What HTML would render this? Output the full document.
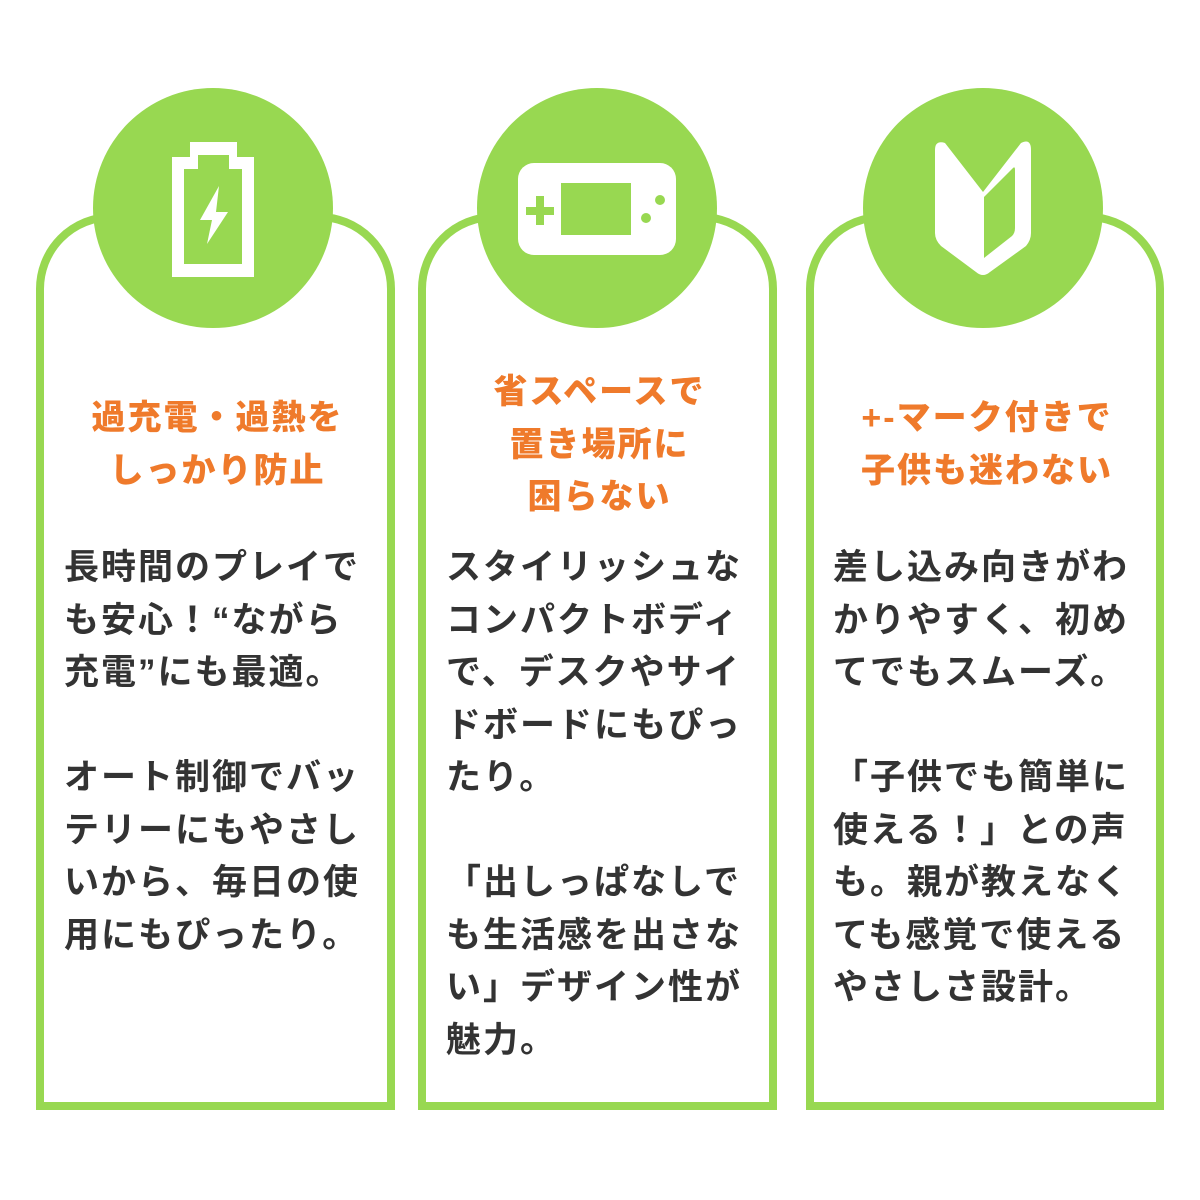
<!DOCTYPE html>
<html><head><meta charset="utf-8"><style>
body{margin:0;width:1200px;height:1200px;background:#fff;position:relative;overflow:hidden;font-family:"Liberation Sans","Noto Sans CJK JP",sans-serif}
.t{position:absolute;text-align:center;color:#ef7a2b;font-weight:900;font-size:34px;letter-spacing:2px;line-height:52.5px;white-space:nowrap}
.b{position:absolute;color:#333;font-weight:700;font-size:35px;letter-spacing:2px;line-height:52.5px;white-space:nowrap}
svg{position:absolute;left:0;top:0}
</style></head><body>
<svg width="1200" height="1200" viewBox="0 0 1200 1200">
<g fill="none" stroke="#98d851" stroke-width="8">
<path d="M40,1106 V290 A72,72 0 0 1 112,217 H319 A72,72 0 0 1 391,290 V1106 Z"/>
<path d="M422,1106 V290 A72,72 0 0 1 494,217 H701 A72,72 0 0 1 773,290 V1106 Z"/>
<path d="M810,1106 V290 A72,72 0 0 1 882,217 H1088 A72,72 0 0 1 1160,290 V1106 Z"/>
</g>
<g fill="#98d851">
<circle cx="213" cy="208" r="120"/>
<circle cx="597" cy="208" r="120"/>
<circle cx="983" cy="208" r="120"/>
</g>
<path fill="#fff" fill-rule="evenodd" d="M172,157 H190 V142 H237 V157 H254 V277 H172 Z M184,169 V264 H242 V169 H229 V155 H198 V169 Z"/>
<path fill="#fff" d="M219,186 L200,220 L212,220 L207,244 L228,212 L216,212 Z"/>
<rect x="518" y="163" width="158" height="92" rx="16" fill="#fff"/>
<rect x="561" y="183" width="70" height="52" fill="#98d851"/>
<rect x="526" y="207" width="28" height="8" fill="#98d851"/>
<rect x="536" y="196" width="8" height="29" fill="#98d851"/>
<circle cx="660" cy="200" r="5" fill="#98d851"/>
<circle cx="646" cy="218" r="5" fill="#98d851"/>
<path fill="#fff" d="M935,150 Q935,140 945,143 L983,192 L1021,143 Q1031,138 1031,150 V233 Q1031,240 1026,246 L990,272 Q983,278 976,272 L941,246 Q935,240 935,233 Z"/>
<path fill="#98d851" d="M984,197 L1013,168 Q1015,166 1015,170 V228 Q1015,233 1012,236 L984,258 Z"/>
</svg>
<div class="t" style="left:40px;width:355px;top:392px">過充電・過熱を<br>しっかり防止</div>
<div class="t" style="left:422px;width:355px;top:366px">省スペースで<br>置き場所に<br>困らない</div>
<div class="t" style="left:810px;width:354px;top:392px">+-マーク付きで<br>子供も迷わない</div>
<div class="b" style="left:64px;top:542px">長時間のプレイで<br>も安心！“ながら<br>充電”にも最適。<br><br>オート制御でバッ<br>テリーにもやさし<br>いから、毎日の使<br>用にもぴったり。</div>
<div class="b" style="left:446px;top:542px">スタイリッシュな<br>コンパクトボディ<br>で、デスクやサイ<br>ドボードにもぴっ<br>たり。<br><br>「出しっぱなしで<br>も生活感を出さな<br>い」デザイン性が<br>魅力。</div>
<div class="b" style="left:833px;top:542px">差し込み向きがわ<br>かりやすく、初め<br>てでもスムーズ。<br><br>「子供でも簡単に<br>使える！」との声<br>も。親が教えなく<br>ても感覚で使える<br>やさしさ設計。</div>
</body></html>
